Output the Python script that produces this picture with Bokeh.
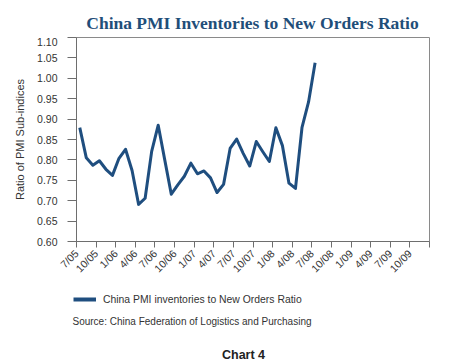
import math
from bokeh.plotting import figure
from bokeh.layouts import column
from bokeh.models import (Label, FixedTicker, Legend, LegendItem, ColumnDataSource,
                          NumeralTickFormatter, Range1d)
from bokeh.embed import file_html
from bokeh.resources import INLINE

# ---- data (monthly, Jul 2005 .. Jul 2008) ----
ratio = [0.879, 0.805, 0.787, 0.798, 0.777, 0.762, 0.804, 0.826, 0.774, 0.691,
         0.706, 0.821, 0.885, 0.800, 0.716, 0.739, 0.760, 0.792, 0.766, 0.773,
         0.756, 0.720, 0.740, 0.828, 0.851, 0.816, 0.785, 0.845, 0.820, 0.796,
         0.879, 0.835, 0.743, 0.730, 0.880, 0.942, 1.038]
tick_labels = ["7/05", "10/05", "1/06", "4/06", "7/06", "10/06", "1/07", "4/07",
               "7/07", "10/07", "1/08", "4/08", "7/08", "10/08", "1/09", "4/09",
               "7/09", "10/09", ""]
y_ticks = [0.60, 0.65, 0.70, 0.75, 0.80, 0.85, 0.90, 0.95, 1.00, 1.05, 1.10]
series_name = "China PMI inventories to New Orders Ratio"
title_text = "China PMI Inventories to New Orders Ratio"
source_text = "Source: China Federation of Logistics and Purchasing"
caption_text = "Chart 4"

months = [i + 0.5 for i in range(len(ratio))]
tick_pos = [3 * i for i in range(len(tick_labels))]

LINE = "#1f4e7f"
AX = "#6e6e6e"
TXT = "#333333"
W = 450


def blank(h):
    f = figure(width=W, height=h, output_backend="svg", toolbar_location=None,
               title=None, x_axis_type=None, y_axis_type=None,
               x_range=Range1d(0, 1), y_range=Range1d(0, 1),
               min_border_left=0, min_border_right=0, min_border_top=0,
               min_border_bottom=0, frame_align=False)
    f.xgrid.visible = False
    f.ygrid.visible = False
    f.outline_line_color = None
    return f


# ---- title strip ----
pt = blank(37)
pt.add_layout(Label(x=252, y=15, x_units="screen", y_units="screen", text=title_text,
                    text_align="center", text_baseline="alphabetic",
                    text_font="Liberation Serif", text_font_style="bold",
                    text_font_size="17.5px", text_color="#1f4e79"))

# ---- main chart ----
p = figure(width=W, height=246, output_backend="svg", toolbar_location=None,
           title=None, x_range=Range1d(0, tick_pos[-1]), y_range=Range1d(0.60, 1.10),
           min_border_left=76, min_border_right=21, min_border_top=0,
           min_border_bottom=42, frame_align=False)
p.xgrid.visible = False
p.ygrid.visible = False
p.outline_line_color = "#8a8a8a"
p.outline_line_width = 1

src = ColumnDataSource(dict(x=months, y=ratio))
p.line("x", "y", source=src, line_color=LINE, line_width=3, line_join="round")

ya = p.yaxis[0]
ya.ticker = FixedTicker(ticks=y_ticks)
ya.formatter = NumeralTickFormatter(format="0.00")
ya.major_tick_in = 0
ya.major_tick_out = 9
ya.minor_tick_line_color = None
ya.axis_line_color = AX
ya.major_tick_line_color = AX
ya.major_label_standoff = 10
ya.major_label_text_font = "Liberation Sans"
ya.major_label_text_font_size = "10.5px"
ya.major_label_text_color = TXT
ya.axis_label = "Ratio of PMI Sub-indices"
ya.axis_label_text_font = "Liberation Sans"
ya.axis_label_text_font_size = "11px"
ya.axis_label_text_font_style = "normal"
ya.axis_label_text_color = TXT
ya.axis_label_standoff = 8

xa = p.xaxis[0]
xa.ticker = FixedTicker(ticks=tick_pos)
xa.major_label_overrides = {t: lab for t, lab in zip(tick_pos, tick_labels)}
xa.major_tick_in = 0
xa.major_tick_out = 6
xa.minor_tick_line_color = None
xa.axis_line_color = AX
xa.major_tick_line_color = AX
xa.major_label_orientation = math.pi / 4
xa.major_label_standoff = 4
xa.major_label_text_font = "Liberation Sans"
xa.major_label_text_font_size = "10.5px"
xa.major_label_text_color = TXT

# ---- bottom strip: legend, source, caption ----
pb = blank(78)
# hidden copy of the series, only used to draw the legend swatch
dummy = pb.line(months, ratio, line_color=LINE, line_width=4, visible=False)
leg = Legend(items=[LegendItem(label=series_name, renderers=[dummy])],
             location=(73, 52), orientation="vertical",
             border_line_alpha=0, background_fill_alpha=0,
             padding=0, margin=0, spacing=0, glyph_width=23, glyph_height=20,
             label_standoff=7, label_text_font="Liberation Sans",
             label_text_font_size="10.4px", label_text_color=TXT)
leg.click_policy = "none"
pb.add_layout(leg, "center")
pb.add_layout(Label(x=72, y=40, x_units="screen", y_units="screen", text=source_text,
                    text_align="left", text_baseline="alphabetic",
                    text_font="Liberation Sans", text_font_size="10px", text_color=TXT))
pb.add_layout(Label(x=243, y=7, x_units="screen", y_units="screen", text=caption_text,
                    text_align="center", text_baseline="alphabetic",
                    text_font="Liberation Sans", text_font_style="bold",
                    text_font_size="12.5px", text_color="#222222"))

layout = column(pt, p, pb, spacing=0)
open("out.html", "w").write(file_html(layout, INLINE))
